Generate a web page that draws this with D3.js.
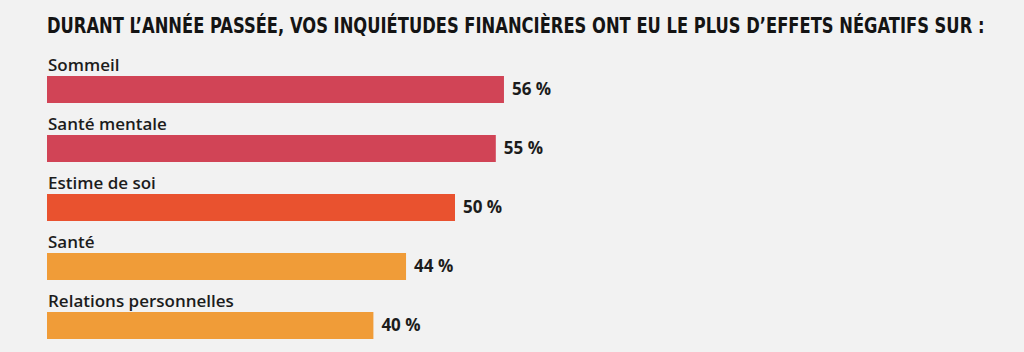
<!doctype html>
<html>
<head>
    <meta charset="utf-8">
    <title>Inquiétudes financières</title>
    <script src="https://cdn.jsdelivr.net/npm/d3@7"></script>
    <style>
        body {
            margin: 0;
            background: #f2f2f2;
        }

        .title {
            font-family: "DejaVu Sans Condensed", "DejaVu Sans", sans-serif;
            font-weight: bold;
            font-size: 19px;
            fill: #141414;
        }

        .label {
            font-family: "Open Sans", sans-serif;
            font-weight: 600;
            font-size: 17px;
            fill: #1c1c1c;
        }

        .value {
            font-family: "Open Sans", sans-serif;
            font-weight: 700;
            font-size: 17px;
            fill: #1c1c1c;
        }
    </style>
</head>

<body>
    <script>
        "use strict";

        const title = "DURANT L’ANNÉE PASSÉE, VOS INQUIÉTUDES FINANCIÈRES ONT EU LE PLUS D’EFFETS NÉGATIFS SUR :";
        const categories = ["Sommeil", "Santé mentale", "Estime de soi", "Santé", "Relations personnelles"];
        const values = [56, 55, 50, 44, 40];
        const colors = ["#d14456", "#d14456", "#e9522f", "#f09c38", "#f09c38"];

        const data = categories.map((c, i) => ({ name: c, value: values[i], color: colors[i] }));

        const width = 1024;
        const height = 352;
        const margin = { top: 47, left: 47 };

        const x = d3.scaleLinear()
            .domain([0, 100])
            .range([margin.left, margin.left + 816]);

        const y = d3.scaleBand()
            .domain(categories)
            .range([margin.top, margin.top + 295])
            .paddingInner(0.0);

        const barH = 27;
        const barOffset = 29;

        const svg = d3.select("body").append("svg")
            .attr("width", width)
            .attr("height", height)
            .attr("viewBox", [0, 0, width, height]);

        // condensed display title: stretch to the reference width and height
        const titleText = svg.append("text")
            .attr("class", "title")
            .text(title);
        const w = titleText.node().getComputedTextLength();
        titleText.attr("transform", `translate(${margin.left},33) scale(${938 / w},1.16)`);

        const row = svg.append("g")
            .selectAll("g")
            .data(data)
            .join("g")
            .attr("transform", d => `translate(0,${y(d.name)})`);

        row.append("text")
            .attr("class", "label")
            .attr("x", margin.left + 1)
            .attr("y", 24)
            .text(d => d.name);

        row.append("rect")
            .attr("x", x(0))
            .attr("y", barOffset)
            .attr("width", d => x(d.value) - x(0))
            .attr("height", barH)
            .attr("fill", d => d.color);

        row.append("text")
            .attr("class", "value")
            .attr("x", d => x(d.value) + 8)
            .attr("y", barOffset + barH / 2)
            .attr("dy", "0.35em")
            .text(d => `${d.value} %`);
    </script>
</body>
</html>
